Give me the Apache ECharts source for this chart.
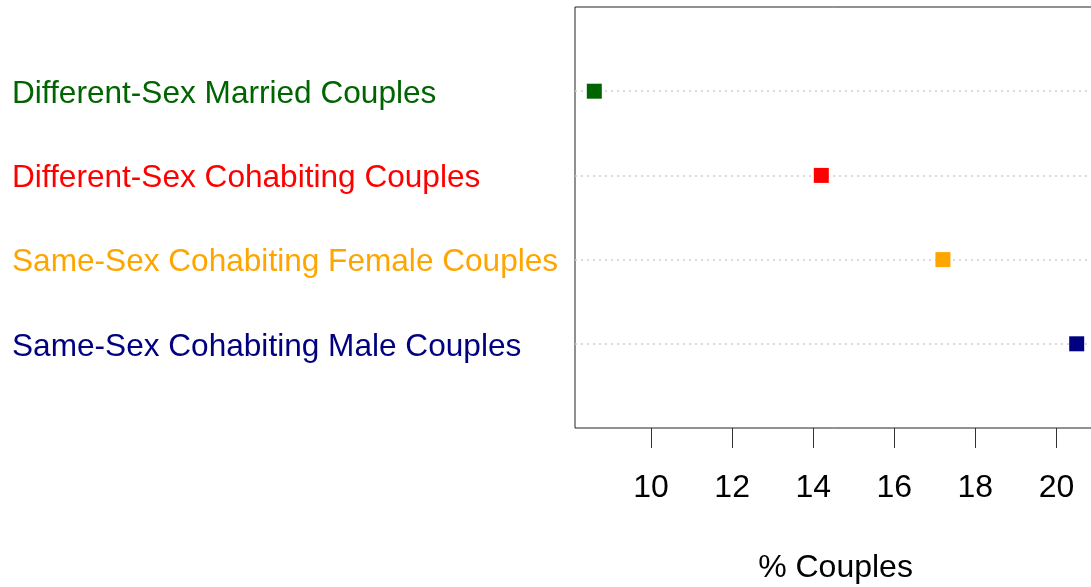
<!DOCTYPE html>
<html>
<head>
<meta charset="utf-8">
<script src="https://cdn.jsdelivr.net/npm/echarts@6/dist/echarts.min.js"></script>
<style>
html,body{margin:0;padding:0;background:#fff;}
#chart{width:1091px;height:587px;}
</style>
</head>
<body>
<div id="chart"></div>
<script>
// Data
var categories = [
  'Different-Sex Married Couples',
  'Different-Sex Cohabiting Couples',
  'Same-Sex Cohabiting Female Couples',
  'Same-Sex Cohabiting Male Couples'
];
var values = [8.6, 14.2, 17.2, 20.5];
var tickValues = [10, 12, 14, 16, 18, 20];
var axisTitle = '% Couples';

// Styles
var colors = ['#006400', '#ff0000', '#ffa500', '#000080'];
var FONT = "'Liberation Sans', Arial, sans-serif";

var xMin = 8.124, xMax = 20.976;

var rich = {};
colors.forEach(function (c, i) {
  rich['c' + i] = { color: c, fontSize: 31.6, fontFamily: FONT, padding: [6, 0, 0, 0] };
});

var chart = echarts.init(document.getElementById('chart'), null, { renderer: 'canvas' });
chart.setOption({
  animation: false,
  backgroundColor: '#ffffff',
  grid: {
    left: 575, width: 521, top: 7, bottom: 159,
    outerBoundsMode: 'none', containLabel: false,
    show: true, borderColor: '#222', borderWidth: 1, backgroundColor: 'transparent'
  },
  xAxis: {
    type: 'value', min: xMin, max: xMax,
    axisLine: { show: false, onZero: false },
    splitLine: { show: false },
    axisTick: { show: true, length: 20, lineStyle: { color: '#333', width: 1 }, customValues: tickValues },
    axisLabel: {
      customValues: tickValues, margin: 44, color: '#000', fontSize: 32, fontFamily: FONT
    },
    name: axisTitle, nameLocation: 'middle', nameGap: 124,
    nameTextStyle: { color: '#000', fontSize: 32, fontFamily: FONT }
  },
  yAxis: {
    type: 'value', min: 0, max: 5, interval: 1, inverse: true,
    axisLine: { show: false, onZero: false }, axisTick: { show: false }, splitLine: { show: false },
    axisLabel: {
      align: 'left', margin: 563,
      formatter: function (v) {
        var i = Math.round(v) - 1;
        if (i < 0 || i >= categories.length) return '';
        return '{c' + i + '|' + categories[i] + '}';
      },
      rich: rich
    }
  },
  series: [
    {
      type: 'scatter', z: 1, data: [], silent: true,
      markLine: {
        silent: true, symbol: ['none', 'none'], label: { show: false },
        lineStyle: { color: '#cfcfcf', type: [2, 4], width: 1.5 },
        data: categories.map(function (c, i) { return { yAxis: i + 1 }; })
      }
    },
    {
      type: 'scatter', z: 5, symbol: 'rect', symbolSize: 15,
      data: values.map(function (v, i) {
        return { value: [v, i + 1], itemStyle: { color: colors[i], opacity: 1 } };
      })
    }
  ]
});
</script>
</body>
</html>
